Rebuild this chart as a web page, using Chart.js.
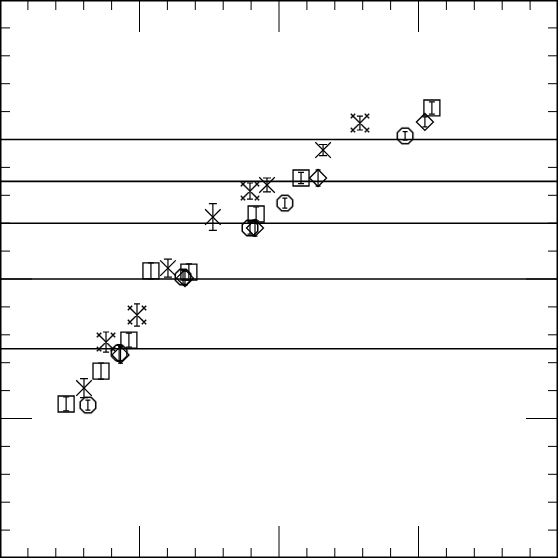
<!DOCTYPE html>
<html>
<head>
<meta charset="utf-8">
<script src="https://cdn.jsdelivr.net/npm/chart.js@4/dist/chart.umd.min.js"></script>
<style>
  html, body { margin: 0; padding: 0; background: #fff; }
  canvas { display: block; }
</style>
</head>
<body>
<canvas id="plot" width="558" height="558"></canvas>
<script>
// axis ranges and tick steps
const xRange = [0, 20];
const yRange = [0, 20];
const majorStep = 5;
const minorStep = 1;

// horizontal reference lines
const hLines = [15, 13.5, 12, 10, 7.5];

// squares
const sqX = [2.37, 3.62, 4.62, 5.41, 6.77, 9.18, 10.79, 15.48];
const sqY = [5.52, 6.70, 7.81, 10.29, 10.25, 12.33, 13.62, 16.13];
const sqErr = [0.25, 0.29, 0.25, 0.29, 0.29, 0.25, 0.2, 0.22];

// octagons
const ocX = [3.15, 4.27, 6.56, 8.96, 10.21, 14.52];
const ocY = [5.48, 7.35, 10.07, 11.83, 12.72, 15.13];
const ocErr = [0.18, 0.3, 0.25, 0.22, 0.18, 0.15];

// diamonds
const dmX = [4.32, 6.63, 9.14, 11.40, 15.23];
const dmY = [7.28, 10.03, 11.83, 13.62, 15.63];
const dmErr = [0.3, 0.25, 0.29, 0.29, 0.18];

// crosses
const crX = [3.01, 6.02, 7.63, 9.57, 11.58];
const crY = [6.09, 10.39, 12.22, 13.37, 14.62];
const crErr = [0.34, 0.32, 0.48, 0.25, 0.2];

// crosses with little x's on the corners
const stX = [3.80, 4.91, 8.96, 12.90];
const stY = [7.74, 8.71, 13.15, 15.59];
const stErr = [0.36, 0.4, 0.29, 0.25];

function pts(xs, ys, es) {
    return xs.map((x, i) => ({ x: x, y: ys[i], e: es[i] }));
}

// octagon marker
function makeOctagon() {
    let c = document.createElement('canvas');
    c.width = 20; c.height = 20;
    let g = c.getContext('2d');
    g.strokeStyle = '#000';
    g.lineWidth = 1.5;
    g.beginPath();
    for (let k = 0; k < 8; k++) {
        let a = Math.PI / 8 + k * Math.PI / 4;
        let px = 10 + 8.4 * Math.cos(a), py = 10 + 8.4 * Math.sin(a);
        if (k === 0) g.moveTo(px, py); else g.lineTo(px, py);
    }
    g.closePath();
    g.stroke();
    return c;
}

// X with small x's at its ends
function makeStar() {
    let c = document.createElement('canvas');
    c.width = 20; c.height = 20;
    let g = c.getContext('2d');
    g.strokeStyle = '#000';
    g.lineWidth = 1.4;
    g.beginPath();
    g.moveTo(3, 3); g.lineTo(17, 17);
    g.moveTo(17, 3); g.lineTo(3, 17);
    let ends = [[3, 3], [17, 3], [3, 17], [17, 17]];
    for (let [ex, ey] of ends) {
        g.moveTo(ex - 2.2, ey - 2.2); g.lineTo(ex + 2.2, ey + 2.2);
        g.moveTo(ex + 2.2, ey - 2.2); g.lineTo(ex - 2.2, ey + 2.2);
    }
    g.stroke();
    return c;
}

// frame, ticks, reference lines and error bars
const framePlugin = {
    id: 'framePlugin',
    beforeDatasetsDraw(chart) {
        let ctx = chart.ctx;
        let xs = chart.scales.x, ys = chart.scales.y;
        let a = chart.chartArea;
        ctx.save();
        ctx.strokeStyle = '#000';
        ctx.lineWidth = 1;

        for (let v = xRange[0] + minorStep; v < xRange[1]; v += minorStep) {
            let p = xs.getPixelForValue(v);
            let len = (v % majorStep === 0) ? 32 : 10;
            ctx.beginPath();
            ctx.moveTo(p, a.top); ctx.lineTo(p, a.top + len);
            ctx.moveTo(p, a.bottom); ctx.lineTo(p, a.bottom - len);
            ctx.stroke();
        }
        for (let v = yRange[0] + minorStep; v < yRange[1]; v += minorStep) {
            let p = ys.getPixelForValue(v);
            let len = (v % majorStep === 0) ? 32 : 10;
            ctx.beginPath();
            ctx.moveTo(a.left, p); ctx.lineTo(a.left + len, p);
            ctx.moveTo(a.right, p); ctx.lineTo(a.right - len, p);
            ctx.stroke();
        }

        ctx.lineWidth = 1.6;
        for (let h of hLines) {
            let p = ys.getPixelForValue(h);
            ctx.beginPath();
            ctx.moveTo(a.left, p); ctx.lineTo(a.right, p);
            ctx.stroke();
        }

        ctx.lineWidth = 2;
        ctx.strokeRect(a.left + 0.5, a.top + 0.5, a.right - a.left - 1, a.bottom - a.top - 1);
        ctx.restore();
    },
    afterDatasetsDraw(chart) {
        let ctx = chart.ctx;
        let xs = chart.scales.x, ys = chart.scales.y;
        ctx.save();
        ctx.strokeStyle = '#000';
        ctx.lineWidth = 1.2;
        chart.data.datasets.forEach(ds => {
            let cap = ds.capWidth || 3;
            for (let d of ds.data) {
                let px = xs.getPixelForValue(d.x);
                let top = ys.getPixelForValue(d.y + d.e);
                let bot = ys.getPixelForValue(d.y - d.e);
                ctx.beginPath();
                ctx.moveTo(px, top); ctx.lineTo(px, bot);
                ctx.moveTo(px - cap, top); ctx.lineTo(px + cap, top);
                ctx.moveTo(px - cap, bot); ctx.lineTo(px + cap, bot);
                ctx.stroke();
            }
        });
        ctx.restore();
    }
};

const common = {
    showLine: false,
    borderColor: '#000',
    backgroundColor: 'rgba(0,0,0,0)',
    borderWidth: 1.3
};

new Chart(document.getElementById('plot'), {
    type: 'scatter',
    data: {
        datasets: [
            Object.assign({ label: 'square', data: pts(sqX, sqY, sqErr), pointStyle: 'rect', pointRadius: 11.3, capWidth: 3 }, common),
            Object.assign({ label: 'octagon', data: pts(ocX, ocY, ocErr), pointStyle: makeOctagon(), capWidth: 2.5 }, common),
            Object.assign({ label: 'diamond', data: pts(dmX, dmY, dmErr), pointStyle: 'rectRot', pointRadius: 8.5, capWidth: 2.5 }, common),
            Object.assign({ label: 'cross', data: pts(crX, crY, crErr), pointStyle: 'crossRot', pointRadius: 11, capWidth: 4 }, common),
            Object.assign({ label: 'star', data: pts(stX, stY, stErr), pointStyle: makeStar(), capWidth: 3 }, common)
        ]
    },
    options: {
        responsive: false,
        animation: false,
        devicePixelRatio: 1,
        layout: { padding: 0, autoPadding: false },
        plugins: { legend: { display: false }, tooltip: { enabled: false } },
        scales: {
            x: { type: 'linear', min: xRange[0], max: xRange[1], display: false },
            y: { type: 'linear', min: yRange[0], max: yRange[1], display: false }
        }
    },
    plugins: [framePlugin]
});
</script>
</body>
</html>
